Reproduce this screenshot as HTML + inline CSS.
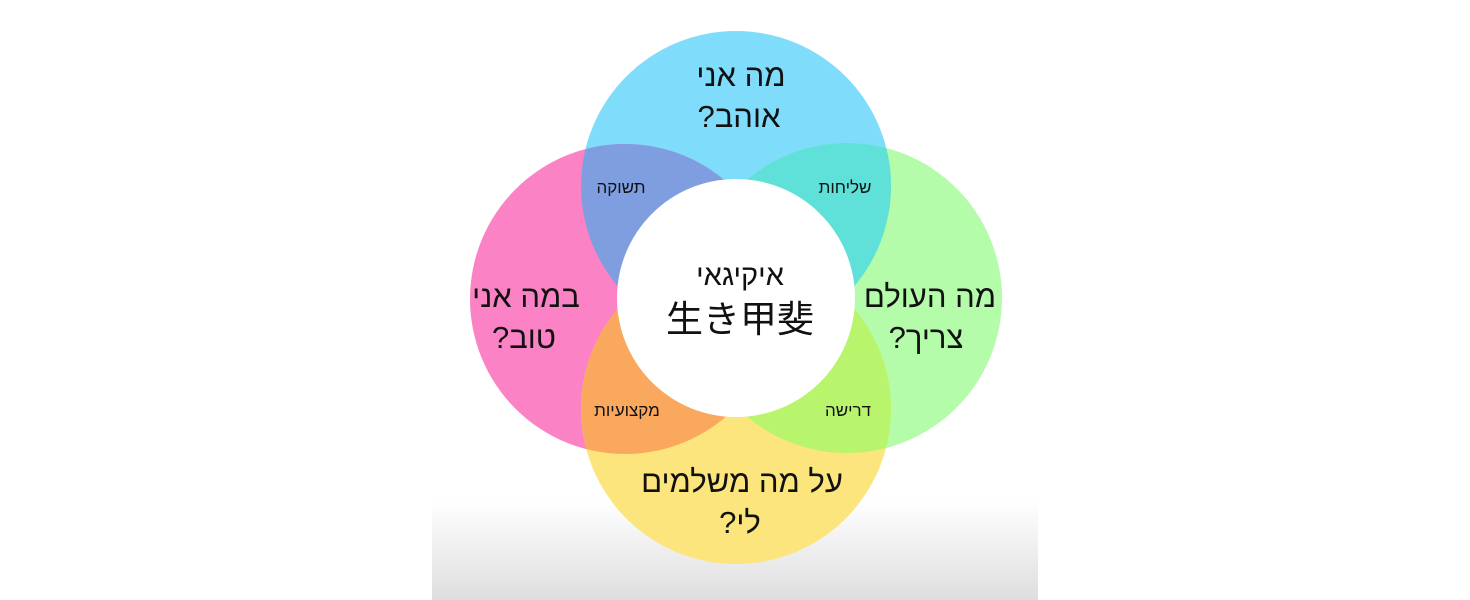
<!DOCTYPE html>
<html><head><meta charset="utf-8"><style>
html,body{margin:0;padding:0;background:#fff;}
svg{display:block;}
text{font-family:"Liberation Sans","Noto Sans CJK JP",sans-serif;fill:#111;text-anchor:middle;direction:rtl;unicode-bidi:embed;}
</style></head><body>
<svg width="1470" height="600" viewBox="0 0 1470 600">
<defs>
<linearGradient id="g" x1="0" y1="0" x2="0" y2="1">
<stop offset="0" stop-color="#fff"/><stop offset="1" stop-color="#dedede"/>
</linearGradient>
<clipPath id="cb"><circle cx="736" cy="186" r="155"/></clipPath>
<clipPath id="cy"><circle cx="736" cy="409" r="155"/></clipPath>
</defs>
<rect x="432" y="500" width="606" height="100" fill="url(#g)"/>
<circle cx="736" cy="186" r="155" fill="#80dcfb"/>
<circle cx="625" cy="299" r="155" fill="#fb82c4"/>
<circle cx="847" cy="298" r="155" fill="#b4fbaa"/>
<circle cx="736" cy="409" r="155" fill="#fbe57c"/>
<g clip-path="url(#cb)">
<circle cx="625" cy="299" r="155" fill="#7f9ee0"/>
<circle cx="847" cy="298" r="155" fill="#5fe0d8"/>
</g>
<g clip-path="url(#cy)">
<circle cx="625" cy="299" r="155" fill="#f9a85e"/>
<circle cx="847" cy="298" r="155" fill="#b8f46c"/>
</g>
<circle cx="736" cy="298" r="119" fill="#fff"/>
<g font-size="31">
<text x="741" y="86">מה אני</text>
<text x="739" y="127">אוהב?</text>
<text x="526" y="307">במה אני</text>
<text x="524" y="348">טוב?</text>
<text x="930" y="307">מה העולם</text>
<text x="926" y="348">צריך?</text>
<text x="742" y="492">על מה משלמים</text>
<text x="740" y="533">לי?</text>
</g>
<g font-size="17">
<text x="621" y="193">תשוקה</text>
<text x="845" y="193">שליחות</text>
<text x="627" y="416">מקצועיות</text>
<text x="848" y="416">דרישה</text>
</g>
<text x="740" y="285" font-size="29">איקיגאי</text>
<text x="740" y="332" font-size="37" style="direction:ltr">生き甲斐</text>
</svg>
</body></html>
